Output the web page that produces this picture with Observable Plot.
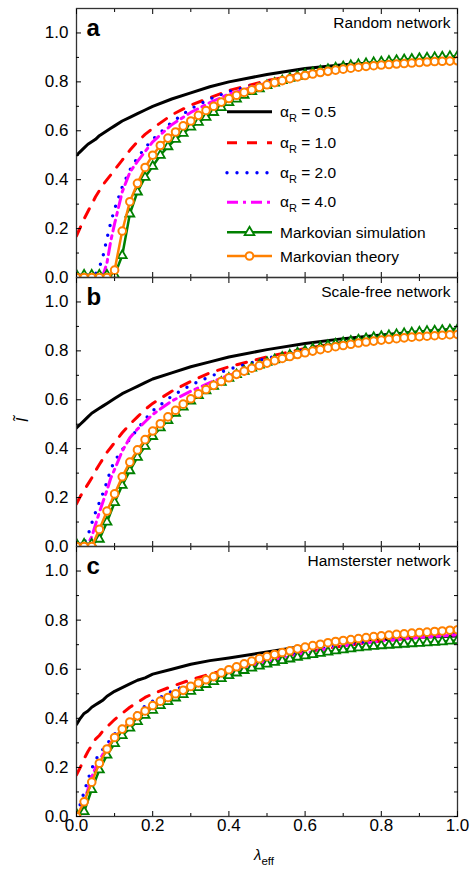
<!DOCTYPE html>
<html><head><meta charset="utf-8">
<script src="https://cdn.jsdelivr.net/npm/d3@7"></script>
<script src="https://cdn.jsdelivr.net/npm/@observablehq/plot@0.6"></script>
<style>
body{margin:0;background:#fff;}
#wrap{position:relative;width:470px;height:870px;font-family:"Liberation Sans",Arial,sans-serif;}
#wrap svg{display:block;overflow:visible;}
</style></head><body><div id="wrap"></div>
<script>
const FONT = '"Liberation Sans", Arial, sans-serif';

// sample positions (lambda_eff)
const xLine = [0,0.01,0.02,0.03,0.04,0.05,0.06,0.07,0.08,0.09,0.10,0.12,0.14,0.16,0.18,0.20,0.25,0.30,0.35,0.40,0.50,0.60,0.70,0.80,0.90,1.00];
const xMark = [0,0.02,0.04,0.06,0.08,0.10,0.12,0.14,0.16,0.18,0.20,0.22,0.24,0.26,0.28,0.30,0.32,0.34,0.36,0.38,0.40,0.42,0.44,0.46,0.48,0.50,0.52,0.54,0.56,0.58,0.60,0.62,0.64,0.66,0.68,0.70,0.72,0.74,0.76,0.78,0.80,0.82,0.84,0.86,0.88,0.90,0.92,0.94,0.96,0.98,1.00];

// Panel a: Random network
const aBlack   = [0.50,0.515,0.53,0.545,0.555,0.565,0.58,0.59,0.60,0.61,0.62,0.64,0.655,0.67,0.685,0.70,0.73,0.755,0.78,0.80,0.83,0.855,0.87,0.88,0.89,0.90];
const aRed     = [0.17,0.205,0.24,0.27,0.30,0.33,0.355,0.38,0.40,0.42,0.44,0.48,0.52,0.555,0.585,0.61,0.665,0.705,0.735,0.765,0.805,0.835,0.855,0.87,0.885,0.895];
const aBlue    = [0.01,0.01,0.01,0.01,0.01,0.015,0.04,0.09,0.16,0.225,0.28,0.37,0.44,0.49,0.53,0.565,0.635,0.69,0.73,0.76,0.80,0.83,0.855,0.87,0.885,0.895];
const aMagenta = [0.01,0.01,0.01,0.01,0.01,0.01,0.01,0.01,0.06,0.15,0.22,0.35,0.43,0.475,0.515,0.555,0.625,0.675,0.715,0.75,0.795,0.83,0.855,0.87,0.885,0.895];
const aSim     = [0.01,0.01,0.01,0.01,0.01,0.01,0.09,0.26,0.35,0.41,0.455,0.50,0.535,0.565,0.59,0.615,0.635,0.655,0.675,0.695,0.715,0.73,0.745,0.76,0.772,0.785,0.795,0.805,0.815,0.823,0.831,0.838,0.845,0.851,0.857,0.862,0.867,0.871,0.875,0.879,0.882,0.885,0.888,0.891,0.893,0.896,0.898,0.90,0.902,0.904,0.906];
const aTheory  = [0,0,0,0,0,0.03,0.19,0.31,0.385,0.45,0.50,0.54,0.57,0.595,0.62,0.64,0.663,0.683,0.70,0.717,0.732,0.745,0.757,0.768,0.778,0.788,0.797,0.805,0.813,0.82,0.826,0.832,0.838,0.843,0.848,0.852,0.856,0.86,0.863,0.866,0.869,0.871,0.873,0.875,0.877,0.879,0.881,0.883,0.884,0.885,0.886];

// Panel b: Scale-free network
const bBlack   = [0.485,0.50,0.515,0.53,0.545,0.555,0.565,0.575,0.585,0.595,0.605,0.625,0.64,0.655,0.67,0.685,0.71,0.735,0.755,0.775,0.805,0.83,0.85,0.865,0.878,0.89];
const bRed     = [0.175,0.205,0.23,0.255,0.28,0.31,0.335,0.36,0.385,0.405,0.425,0.465,0.50,0.53,0.56,0.585,0.635,0.675,0.71,0.735,0.775,0.81,0.835,0.855,0.87,0.88];
const bBlue    = [0.01,0.01,0.015,0.045,0.095,0.14,0.18,0.22,0.265,0.315,0.35,0.395,0.44,0.48,0.52,0.555,0.615,0.66,0.695,0.725,0.77,0.805,0.83,0.85,0.865,0.875];
const bMagenta = [0.01,0.01,0.01,0.01,0.04,0.09,0.14,0.185,0.23,0.28,0.315,0.39,0.445,0.48,0.51,0.54,0.595,0.635,0.67,0.70,0.75,0.79,0.82,0.845,0.86,0.875];
const bSim     = [0.01,0.01,0.01,0.03,0.10,0.18,0.25,0.31,0.365,0.41,0.45,0.485,0.515,0.545,0.57,0.595,0.617,0.637,0.655,0.672,0.688,0.703,0.717,0.73,0.742,0.753,0.764,0.774,0.783,0.792,0.80,0.808,0.815,0.822,0.828,0.834,0.84,0.845,0.85,0.855,0.859,0.863,0.867,0.871,0.874,0.877,0.88,0.882,0.884,0.886,0.888];
const bTheory  = [0,0,0,0.07,0.145,0.215,0.285,0.345,0.395,0.437,0.472,0.502,0.53,0.557,0.582,0.604,0.624,0.642,0.659,0.675,0.69,0.704,0.717,0.729,0.74,0.75,0.76,0.769,0.777,0.785,0.792,0.799,0.805,0.811,0.817,0.822,0.827,0.832,0.836,0.84,0.844,0.847,0.85,0.853,0.856,0.858,0.86,0.862,0.864,0.866,0.867];

// Panel c: Hamsterster network
const cBlack   = [0.375,0.40,0.42,0.43,0.445,0.455,0.465,0.475,0.49,0.50,0.51,0.525,0.54,0.555,0.565,0.58,0.60,0.62,0.635,0.646,0.67,0.695,0.71,0.72,0.73,0.735];
const cRed     = [0.17,0.20,0.235,0.265,0.29,0.315,0.33,0.35,0.365,0.38,0.395,0.42,0.445,0.465,0.485,0.50,0.53,0.557,0.58,0.60,0.64,0.67,0.695,0.715,0.73,0.745];
const cBlue    = [0.01,0.05,0.10,0.15,0.195,0.23,0.255,0.275,0.296,0.315,0.335,0.37,0.40,0.425,0.45,0.47,0.51,0.545,0.57,0.595,0.64,0.675,0.70,0.72,0.735,0.745];
const cMagenta = [0.01,0.02,0.06,0.11,0.16,0.20,0.23,0.255,0.28,0.30,0.32,0.355,0.385,0.41,0.435,0.455,0.50,0.535,0.56,0.585,0.63,0.665,0.695,0.715,0.73,0.74];
const cSim     = [0.01,0.02,0.11,0.19,0.25,0.297,0.33,0.36,0.387,0.412,0.433,0.452,0.468,0.483,0.497,0.51,0.525,0.538,0.55,0.562,0.574,0.585,0.595,0.605,0.613,0.621,0.628,0.635,0.642,0.649,0.655,0.66,0.665,0.67,0.675,0.679,0.683,0.687,0.69,0.693,0.696,0.698,0.70,0.702,0.704,0.706,0.708,0.71,0.712,0.715,0.717];
const cTheory  = [0,0.06,0.14,0.217,0.275,0.322,0.356,0.385,0.41,0.43,0.452,0.47,0.485,0.5,0.514,0.53,0.544,0.557,0.57,0.585,0.598,0.61,0.622,0.633,0.643,0.652,0.66,0.668,0.675,0.683,0.69,0.696,0.702,0.708,0.713,0.717,0.721,0.725,0.729,0.733,0.736,0.739,0.742,0.744,0.747,0.749,0.751,0.754,0.756,0.759,0.761];

const panelLetters = ["a","b","c"];
const panelNames = ["Random network","Scale-free network","Hamsterster network"];
const alphaValues = ["0.5","1.0","2.0","4.0"];
const modelNames = ["Markovian simulation","Markovian theory"];
const yMajor = [0,0.2,0.4,0.6,0.8,1.0];
const yMinor = [0.1,0.3,0.5,0.7,0.9];
const xMajor = [0,0.2,0.4,0.6,0.8,1.0];
const xMinor = [0.1,0.3,0.5,0.7,0.9];

const C = {black:"#000000", red:"#ff0000", blue:"#0000ff", magenta:"#ff00ff", green:"#008000", orange:"#ff8000"};
const S = {
  black:{stroke:C.black, strokeWidth:3},
  red:{stroke:C.red, strokeWidth:3, strokeDasharray:"10,10"},
  blue:{stroke:C.blue, strokeWidth:3.4, strokeDasharray:"0,10", strokeLinecap:"round"},
  magenta:{stroke:C.magenta, strokeWidth:3, strokeDasharray:"11,5,3,5"}
};

const panels = [
  {black:aBlack, red:aRed, blue:aBlue, magenta:aMagenta, sim:aSim, theory:aTheory},
  {black:bBlack, red:bRed, blue:bBlue, magenta:bMagenta, sim:bSim, theory:bTheory},
  {black:cBlack, red:cRed, blue:cBlue, magenta:cMagenta, sim:cSim, theory:cTheory}
];
const layout = [
  {height:277, marginTop:8, marginBottom:0},
  {height:269, marginTop:0, marginBottom:0},
  {height:324, marginTop:0, marginBottom:54}
];

const blank = () => "";
const fmt = d3.format(".1f");

function makePanel(i) {
  const p = panels[i], L = layout[i], showX = i === 2;
  const lines = ys => xLine.map((x, k) => ({x, y: ys[k]}));
  const marks = ys => xMark.map((x, k) => ({x, y: ys[k]}));
  const base = {x:"x", y:"y", clip:true};
  return Plot.plot({
    width:470, height:L.height, marginLeft:76, marginRight:13, marginTop:L.marginTop, marginBottom:L.marginBottom,
    style:{background:"transparent", overflow:"visible", fontFamily:FONT, color:"#000"},
    x:{domain:[0,1], label:null},
    y:{domain:[0,1.1], label:null},
    marks:[
      Plot.line(lines(p.black), {...base, ...S.black}),
      Plot.line(lines(p.red), {...base, ...S.red}),
      Plot.line(lines(p.blue), {...base, ...S.blue}),
      Plot.line(lines(p.magenta), {...base, ...S.magenta}),
      Plot.line(marks(p.sim), {...base, stroke:C.green, strokeWidth:2.5}),
      Plot.dot(marks(p.sim), {...base, symbol:"triangle", r:3.3, stroke:C.green, fill:"white", strokeWidth:1.8}),
      Plot.line(marks(p.theory), {...base, stroke:C.orange, strokeWidth:2.5}),
      Plot.dot(marks(p.theory), {...base, r:3.8, stroke:C.orange, fill:"white", strokeWidth:2}),
      Plot.frame({stroke:"#333", strokeWidth:1.3}),
      Plot.axisY({anchor:"left", ticks:yMajor, tickSize:-5, tickPadding:13, tickFormat:fmt, fontSize:17, label:null}),
      Plot.axisY({anchor:"left", ticks:yMinor, tickSize:-3, tickFormat:blank, label:null}),
      Plot.axisY({anchor:"right", ticks:yMajor.concat(yMinor), tickSize:-4, tickFormat:blank, label:null}),
      Plot.axisX({anchor:"bottom", ticks:xMajor, tickSize:-5, tickPadding:7, tickFormat: showX ? fmt : blank, fontSize:17, label:null}),
      Plot.axisX({anchor:"bottom", ticks:xMinor, tickSize:-3, tickFormat:blank, label:null}),
      Plot.axisX({anchor:"top", ticks:xMajor, tickSize:-5, tickFormat:blank, label:null}),
      Plot.axisX({anchor:"top", ticks:xMinor, tickSize:-3, tickFormat:blank, label:null}),
      Plot.text([panelLetters[i]], {text:d=>d, frameAnchor:"top-left", dx:10, dy:10, lineAnchor:"top", fontSize:24, fontWeight:"bold"}),
      Plot.text([panelNames[i]], {text:d=>d, frameAnchor:"top-right", dx:-7, dy:8, lineAnchor:"top", textAnchor:"end", fontSize:15.5})
    ]
  });
}

const wrap = document.getElementById("wrap");
const charts = [0,1,2].map(i => { const c = makePanel(i); wrap.appendChild(c); return c; });

// Legend inside panel a
{
  const svg = d3.select(charts[0]);
  const g = svg.append("g").attr("font-family", FONT).attr("font-size", 15.5).attr("fill", "#000").attr("text-anchor", "start");
  const rowsY = [111.7, 142.7, 172.7, 202.3, 232.3, 256];
  const styles = [S.black, S.red, S.blue, S.magenta];
  alphaValues.forEach((v, k) => {
    const s = styles[k], y = rowsY[k];
    g.append("line").attr("x1", 227).attr("x2", 272).attr("y1", y).attr("y2", y)
      .attr("stroke", s.stroke).attr("stroke-width", s.strokeWidth)
      .attr("stroke-dasharray", s.strokeDasharray || null)
      .attr("stroke-linecap", s.strokeLinecap || null);
    const t = g.append("text").attr("x", 280).attr("y", y + 5).attr("text-anchor", "start");
    t.append("tspan").text("α");
    t.append("tspan").attr("font-size", 11).attr("dy", 5).text("R");
    t.append("tspan").attr("dy", -5).text(" = " + v);
  });
  let y = rowsY[4];
  g.append("line").attr("x1", 227).attr("x2", 272).attr("y1", y).attr("y2", y).attr("stroke", C.green).attr("stroke-width", 2.5);
  g.append("path").attr("d", d3.symbol(d3.symbolTriangle, Math.PI * 3.6 * 3.6)()).attr("transform", `translate(249.5,${y})`)
    .attr("fill", "white").attr("stroke", C.green).attr("stroke-width", 1.8);
  g.append("text").attr("x", 280).attr("y", y + 5.5).attr("text-anchor", "start").text(modelNames[0]);
  y = rowsY[5];
  g.append("line").attr("x1", 227).attr("x2", 272).attr("y1", y).attr("y2", y).attr("stroke", C.orange).attr("stroke-width", 2.5);
  g.append("circle").attr("cx", 249.5).attr("cy", y).attr("r", 3.8).attr("fill", "white").attr("stroke", C.orange).attr("stroke-width", 2);
  g.append("text").attr("x", 280).attr("y", y + 5.5).attr("text-anchor", "start").text(modelNames[1]);
}

// y-axis title (Ĩ) on panel b
d3.select(charts[1]).append("text")
  .attr("transform", "translate(22,143) rotate(-90)")
  .attr("text-anchor", "middle").attr("dominant-baseline", "central")
  .attr("font-family", FONT).attr("font-size", 17).attr("font-style", "italic").attr("fill", "#000")
  .text("Ĩ");

// x-axis title (λ_eff) on panel c
{
  const t = d3.select(charts[2]).append("text")
    .attr("x", 254).attr("y", 314).attr("text-anchor", "start").attr("font-family", FONT).attr("font-size", 15).attr("fill", "#000");
  t.append("tspan").attr("font-style", "italic").text("λ");
  t.append("tspan").attr("font-size", 11.5).attr("dy", 5).text("eff");
}
</script></body></html>
